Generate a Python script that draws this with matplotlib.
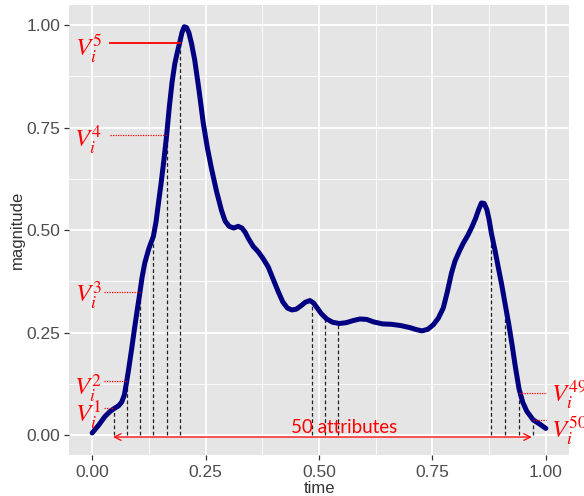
import matplotlib
matplotlib.use("Agg")
import matplotlib.pyplot as plt
import numpy as np

# curve
time = [0.000, 0.015, 0.028, 0.040, 0.049, 0.058, 0.065, 0.071, 0.076, 0.081,
        0.087, 0.094, 0.100, 0.105, 0.110, 0.116, 0.125, 0.135, 0.141, 0.146,
        0.152, 0.158, 0.164, 0.170, 0.176, 0.182, 0.188, 0.193, 0.198, 0.203,
        0.208, 0.213, 0.219, 0.226, 0.235, 0.245, 0.254, 0.263, 0.274, 0.285,
        0.293, 0.302, 0.312, 0.322, 0.330, 0.337, 0.344, 0.355, 0.366, 0.377,
        0.388, 0.399, 0.410, 0.420, 0.430, 0.440, 0.450, 0.460, 0.470, 0.480,
        0.488, 0.496, 0.505, 0.517, 0.530, 0.545, 0.560, 0.575, 0.590, 0.605,
        0.620, 0.640, 0.660, 0.680, 0.700, 0.715, 0.727, 0.740, 0.752, 0.763,
        0.774, 0.783, 0.792, 0.800, 0.810, 0.818, 0.828, 0.836, 0.845, 0.852,
        0.858, 0.864, 0.870, 0.875, 0.880, 0.888, 0.895, 0.903, 0.910, 0.918,
        0.925, 0.933, 0.941, 0.949, 0.958, 0.966, 0.972, 0.986, 1.000]
magnitude = [0.005, 0.025, 0.045, 0.058, 0.065, 0.071, 0.080, 0.098, 0.130, 0.165,
             0.210, 0.265, 0.310, 0.346, 0.385, 0.420, 0.455, 0.485, 0.522, 0.565,
             0.615, 0.670, 0.730, 0.800, 0.860, 0.905, 0.935, 0.958, 0.982, 0.996,
             0.994, 0.982, 0.955, 0.915, 0.845, 0.760, 0.700, 0.650, 0.595, 0.548,
             0.522, 0.509, 0.505, 0.509, 0.505, 0.495, 0.480, 0.460, 0.447, 0.430,
             0.410, 0.380, 0.350, 0.325, 0.310, 0.305, 0.307, 0.315, 0.324, 0.328,
             0.322, 0.310, 0.296, 0.283, 0.275, 0.272, 0.274, 0.279, 0.283, 0.282,
             0.276, 0.271, 0.270, 0.267, 0.262, 0.257, 0.254, 0.258, 0.269, 0.285,
             0.310, 0.350, 0.395, 0.425, 0.450, 0.468, 0.487, 0.505, 0.528, 0.550,
             0.566, 0.565, 0.550, 0.525, 0.492, 0.450, 0.410, 0.365, 0.321, 0.272,
             0.224, 0.165, 0.112, 0.080, 0.058, 0.046, 0.037, 0.027, 0.016]

# sampled attributes (dashed drop lines)
attr_t = [0.0485, 0.076, 0.105, 0.135, 0.164, 0.193,
          0.484, 0.513, 0.541, 0.879, 0.910, 0.940, 0.971]
attr_v = [0.065, 0.132, 0.348, 0.486, 0.733, 0.957,
          0.325, 0.288, 0.272, 0.493, 0.322, 0.102, 0.036]

# labelled attributes: superscript, index into attr_t, side, label height
lab_sup = ["1", "2", "3", "4", "5", "49", "50"]
lab_idx = [0, 1, 2, 4, 5, 11, 12]
lab_side = ["l", "l", "l", "l", "l", "r", "r"]
lab_y = [0.052, 0.115, 0.340, 0.722, 0.944, 0.098, 0.013]

plt.rcParams["mathtext.fontset"] = "stix"

fig = plt.figure(figsize=(5.84, 4.96), dpi=100)
ax = fig.add_axes([0.119, 0.0817, 0.8545, 0.909])
ax.set_facecolor("#E5E5E5")
for s in ax.spines.values():
    s.set_visible(False)

ax.set_xlim(-0.05, 1.05)
ax.set_ylim(-0.05, 1.05)
ticks = [0, 0.25, 0.5, 0.75, 1.0]
ax.set_xticks(ticks)
ax.set_yticks(ticks)
ax.set_xticklabels(["0.00", "0.25", "0.50", "0.75", "1.00"])
ax.set_yticklabels(["0.00", "0.25", "0.50", "0.75", "1.00"])
ax.set_xticks([0.125, 0.375, 0.625, 0.875], minor=True)
ax.set_yticks([0.125, 0.375, 0.625, 0.875], minor=True)
ax.grid(True, which="major", color="white", lw=1.3)
ax.grid(True, which="minor", color="white", lw=0.6)
ax.set_axisbelow(True)
ax.tick_params(which="major", length=3.5, width=0.9, color="#333333",
               labelsize=12.5, labelcolor="#4D4D4D", pad=3)
ax.tick_params(which="minor", length=0)
for lab in ax.get_xticklabels() + ax.get_yticklabels():
    lab.set_family("Liberation Sans")
ax.set_xlabel("time", fontsize=12, family="Liberation Sans", color="#333333", labelpad=1)
ax.set_ylabel("magnitude", fontsize=12, family="Liberation Sans", color="#333333", labelpad=1)

ax.vlines(attr_t, 0, attr_v, colors="#222222", lw=0.9, linestyles=(0, (3, 2)), zorder=2)
ax.plot(time, magnitude, color="#000080", lw=3.6, solid_capstyle="round",
        solid_joinstyle="round", zorder=3)

for sup, i, side, ly in zip(lab_sup, lab_idx, lab_side, lab_y):
    t, v = attr_t[i], attr_v[i]
    style = "-" if sup == "5" else (0, (1, 1))
    lw = 1.3 if sup == "5" else 0.9
    if side == "l":
        x0 = 0.039 if sup in ("4", "5") else 0.026
        ax.plot([x0, t], [v, v], color="red", lw=lw, ls=style, zorder=4)
        ax.text(0.022, ly, "$V_i^{%s}$" % sup, color="red", fontsize=18,
                ha="right", va="center", zorder=5)
    else:
        ax.plot([t, 1.0], [v, v], color="red", lw=lw, ls=style, zorder=4)
        ax.text(1.012, ly, "$V_i^{%s}$" % sup, color="red", fontsize=18,
                ha="left", va="center", zorder=5, clip_on=False)

ax.annotate("", xy=(0.969, -0.005), xytext=(0.046, -0.005),
            arrowprops=dict(arrowstyle="<->", color="red", lw=0.9,
                            mutation_scale=12, shrinkA=0, shrinkB=0), zorder=5)
ax.text(0.555, 0.004, "50 attributes", color="red", fontsize=13.5, family="Lato",
        ha="center", va="baseline", zorder=5)

fig.savefig("out.png", dpi=100)
